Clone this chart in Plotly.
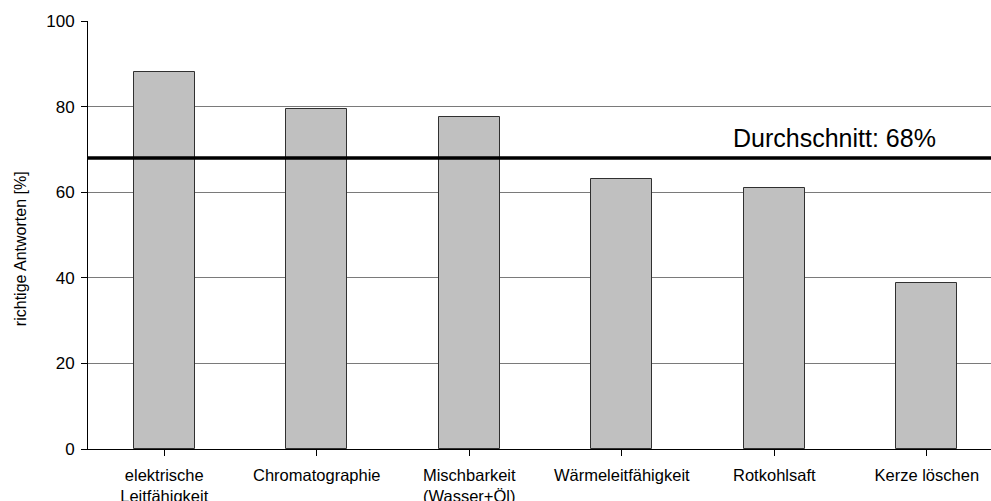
import plotly.graph_objects as go

# Anteil richtiger Antworten je Versuch
categories = [
    "elektrische<br>Leitfähigkeit",
    "Chromatographie",
    "Mischbarkeit<br>(Wasser+Öl)",
    "Wärmeleitfähigkeit",
    "Rotkohlsaft",
    "Kerze löschen",
]
values = [88.0, 79.5, 77.5, 63.0, 61.0, 38.8]
AVERAGE = 68
y_ticks = [0, 20, 40, 60, 80, 100]

FONT = "Liberation Sans, Arial, sans-serif"

fig = go.Figure()
fig.add_trace(go.Bar(
    x=list(range(len(categories))),
    y=values,
    width=0.4,
    marker=dict(color="#c0c0c0", line=dict(color="#303030", width=1)),
    hoverinfo="y",
))

# Durchschnittslinie
fig.add_shape(
    type="line", xref="paper", yref="y",
    x0=0, x1=1, y0=AVERAGE, y1=AVERAGE,
    line=dict(color="black", width=3.5),
)
fig.add_annotation(
    x=4.395, y=72.7, xref="x", yref="y",
    text=f"Durchschnitt: {AVERAGE}%",
    showarrow=False, xanchor="center", yanchor="middle",
    font=dict(family=FONT, size=25, color="black"),
)

# Achsentitel
fig.add_annotation(
    x=-0.0753, y=0.467, xref="paper", yref="paper",
    text="richtige Antworten [%]", textangle=-90,
    showarrow=False, xanchor="center", yanchor="middle",
    font=dict(family=FONT, size=16, color="black"),
)

fig.update_layout(
    width=991, height=501,
    margin=dict(l=88, r=0, t=21, b=52, autoexpand=False),
    paper_bgcolor="white", plot_bgcolor="white",
    showlegend=False,
    font=dict(family=FONT, color="black"),
    bargap=0,
)
fig.update_xaxes(
    range=[-0.5, 5.421],
    tickmode="array",
    tickvals=list(range(len(categories))),
    ticktext=categories,
    showline=True, linecolor="black", linewidth=1,
    ticks="outside", ticklen=6, tickcolor="black",
    ticklabelstandoff=5, automargin=False,
    showgrid=False, zeroline=False,
    tickfont=dict(family=FONT, size=16.5, color="black"),
)
fig.update_yaxes(
    range=[0, 100],
    tickmode="array", tickvals=y_ticks,
    showline=True, linecolor="black", linewidth=1,
    ticks="outside", ticklen=6, tickcolor="black",
    ticklabelstandoff=3, automargin=False,
    showgrid=True, gridcolor="#7a7a7a", gridwidth=1,
    zeroline=False,
    tickfont=dict(family=FONT, size=17, color="black"),
)

fig.write_html("out.html")
